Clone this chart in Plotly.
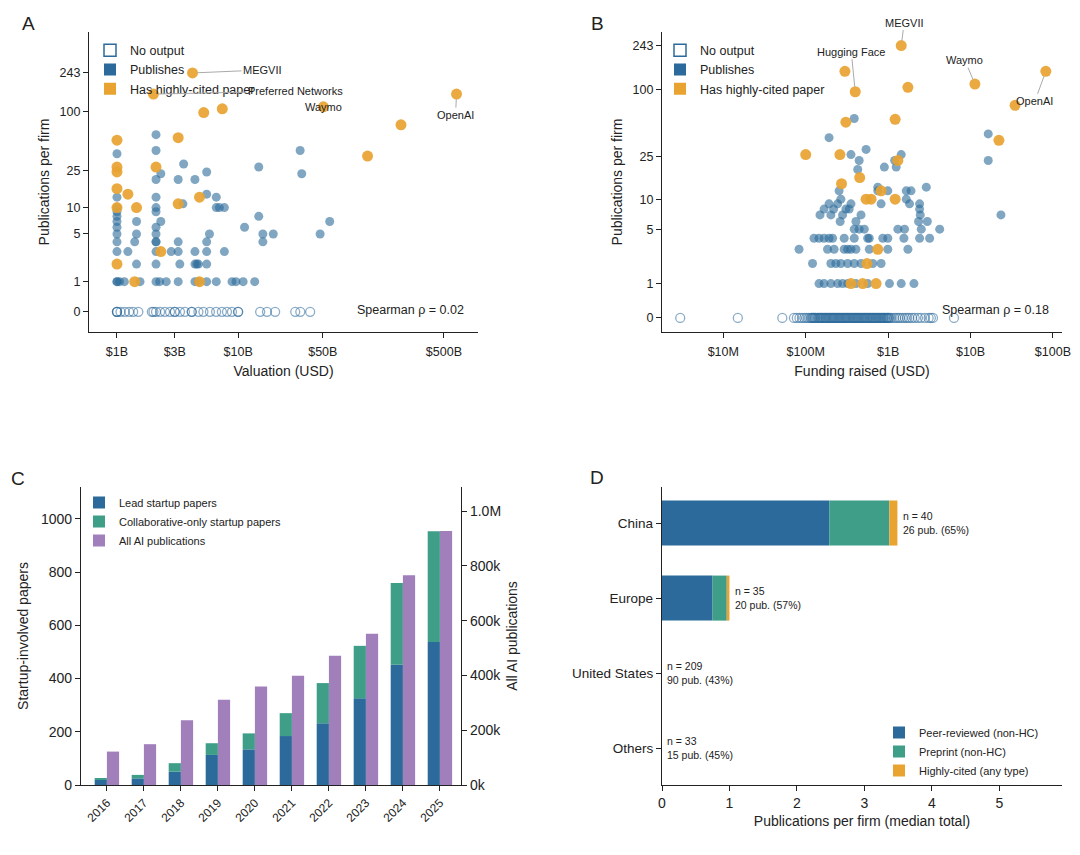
import numpy as np
import plotly.graph_objects as go

# ---------------- DATA ----------------
# Panel A: valuation ($B) vs publications per firm
A_zero_val = [1.0, 1.0, 1.0, 1.07, 1.16, 1.26, 1.36, 1.5, 1.94, 2.0, 2.1, 2.27, 2.49, 2.74, 3.0, 3.0,
              3.31, 3.64, 4.14, 4.14, 4.7, 5.17, 5.85, 6.58, 7.34, 8.09, 8.89, 10.0, 10.0,
              15.2, 17.3, 20.2, 29.6, 32.6, 39.3]
A_pub_val = [1.0, 1.0, 1.05, 1.15, 1.55, 2.1, 2.25, 2.55, 3.2, 4.4, 4.7, 5.5, 6.6, 8.9, 9.6, 11.0, 13.7,
             1.45, 2.1, 3.3, 4.4, 4.55, 4.7, 5.5,
             1.0, 1.23, 2.1, 2.8, 3.2, 4.4, 5.5, 7.7,
             1.0, 1.4, 2.1, 2.1, 3.2, 5.5, 16.0,
             1.0, 1.45, 2.1, 5.8, 16.0, 19.5, 47.5,
             1.0, 2.1, 11.3,
             1.0, 1.45, 2.3, 57.0,
             1.0, 14.8,
             1.0, 2.1,
             1.0, 2.1, 6.6, 7.0, 7.7,
             3.5,
             1.0, 2.1, 6.6,
             5.5,
             2.1, 3.2, 4.4,
             2.3, 33.5, 5.5,
             14.8, 3.55,
             1.0, 2.1, 32.5, 2.1]
A_pub_n = [1] * 17 + [2] * 7 + [3] * 8 + [4] * 7 + [5] * 7 + [6] * 3 + [7] * 4 + [8] * 2 + [9] * 2 + \
          [10] * 5 + [11] + [13] * 3 + [14] + [20] * 3 + [23, 23, 24] + [27, 29] + [37, 40, 40, 58]
A_hc_val = [1.4, 4.8, 1.0, 2.3, 1.0, 1.45, 3.2, 4.8, 1.23, 1.0, 1.0, 1.0, 2.1, 1.0, 3.2,
            2.0, 4.2, 5.2, 7.4, 50.5, 117.0, 221.0, 635.0]
A_hc_n = [1, 1, 2, 3, 10, 10, 11, 13, 14, 16, 24, 27, 27, 51, 54,
          149, 243, 97, 106, 111, 35, 73, 149]

# Panel B: funding raised ($M) vs publications per firm
B_zero_val = [3, 15, 52, 72, 78, 84, 90, 96, 102, 108, 114, 120, 126, 132, 138, 145, 152, 160, 168, 176,
              185, 195, 205, 215, 225, 236, 248, 260, 273, 287, 300, 315, 330, 347, 365, 383, 400, 420,
              440, 462, 485, 510, 535, 560, 590, 620, 650, 680, 715, 750, 790, 830, 870, 910, 960, 1000,
              1050, 1100, 1180, 1250, 1330, 1400, 1500, 1600, 1700, 1800, 1950, 2100, 2300, 2500, 2800,
              3100, 3300, 3500, 6300,
              118, 124, 130, 141, 149, 156, 164, 172, 180, 190, 200, 210, 220, 230, 242, 254, 266, 280,
              294, 308, 322, 338, 355, 374, 392, 410, 430, 450, 473, 497, 522, 548, 575, 605, 635, 665,
              700, 732, 770, 810, 850, 890, 935, 980, 1020]
B_pub_val = [145, 167, 202, 244, 280, 323, 407, 565, 1038, 1442, 2057,
             121, 202, 232, 267, 323, 388, 469, 651, 822,
             83, 184, 221, 293, 323, 354, 407, 591, 991, 1738,
             126, 145, 167, 192, 212, 293, 388, 565, 591, 861, 991, 1554, 2409, 3189,
             388, 445, 514, 1313, 1582, 2525, 4224,
             262, 407, 2342, 2990,
             149, 202, 280, 469, 2456, 23400,
             167, 218, 307, 337, 2409,
             192, 244, 354, 822, 1820, 2409,
             267, 1660,
             254, 749, 991, 1660, 1897,
             749, 2906,
             428, 900, 1253,
             445, 1200, 16400,
             354, 1442, 540, 192, 16400, 388]
B_pub_n = [1] * 11 + [2] * 9 + [3] * 10 + [4] * 14 + [5] * 7 + [6] * 4 + [7] * 6 + [8] * 5 + [9] * 6 + \
          [10] * 2 + [12] * 5 + [13] * 2 + [19, 20, 20] + [23] * 3 + [26, 26, 29, 37, 40, 55]
B_hc_val = [354, 491, 714, 554, 749, 540, 621, 1217, 822, 272, 452, 1313, 100, 260,
            307, 1217, 299, 399, 1442, 1738, 11300, 82000, 34700, 22100]
B_hc_n = [1, 1, 1, 2, 3, 10, 10, 10, 12, 14, 16, 23, 26, 26,
          51, 54, 144, 95, 243, 104, 111, 144, 72, 35]

pub_ticks = [0, 1, 5, 10, 25, 100, 243]

# Panel C
years = [2016, 2017, 2018, 2019, 2020, 2021, 2022, 2023, 2024, 2025]
lead_papers = [19, 25, 50, 113, 134, 184, 232, 326, 452, 537]
collab_papers = [6, 13, 32, 44, 60, 86, 151, 197, 307, 417]
all_ai_pubs = [122000, 149000, 236000, 311000, 360000, 399000, 472000, 552000, 766000, 927000]

# Panel D
regions = ["China", "Europe", "United States", "Others"]
peer_reviewed = [2.48, 0.75, 0.0, 0.0]
preprint = [0.89, 0.21, 0.0, 0.0]
highly_cited = [0.12, 0.04, 0.0, 0.0]
n_firms = [40, 35, 209, 33]
n_pub = [26, 20, 90, 15]
pct_pub = [65, 57, 43, 45]

# ---------------- STYLE ----------------
BLUE = "#2b6a9a"
TEAL = "#3f9e88"
PURPLE = "#a07fba"
ORANGE = "#e8a331"
INK = "#222222"
FONT = "Liberation Sans, Arial, sans-serif"

pub_blue = "rgba(43,106,154,0.6)"
open_line = "rgba(43,106,154,0.55)"
orange_fill = "rgba(232,163,49,0.92)"

W, H, OFF = 1080, 855, 8  # page offset of the plot div


def px(x):
    return (x - OFF) / W


def py(y):
    return 1 - (y - OFF) / H


fig = go.Figure()


def t(n):
    return np.log1p(np.asarray(n, dtype=float))


def scatter_panel(xa, ya, zero_val, pub_val, pub_n, hc_val, hc_n, mult, legend):
    # legend proxies
    fig.add_trace(go.Bar(x=[None], y=[None], name="No output", xaxis=xa, yaxis=ya, legend=legend,
                         marker=dict(color="white", line=dict(color=BLUE, width=1.5))))
    fig.add_trace(go.Bar(x=[None], y=[None], name="Publishes", xaxis=xa, yaxis=ya, legend=legend,
                         marker=dict(color=BLUE, line=dict(width=0))))
    fig.add_trace(go.Bar(x=[None], y=[None], name="Has highly-cited paper", xaxis=xa, yaxis=ya,
                         legend=legend, marker=dict(color=ORANGE, line=dict(width=0))))
    fig.add_trace(go.Scatter(x=np.array(zero_val) * mult, y=t([0] * len(zero_val)), mode="markers",
                             xaxis=xa, yaxis=ya, showlegend=False, hoverinfo="skip",
                             marker=dict(size=9, color="rgba(255,255,255,0)",
                                         line=dict(color=open_line, width=1.3))))
    fig.add_trace(go.Scatter(x=np.array(pub_val) * mult, y=t(pub_n), mode="markers",
                             xaxis=xa, yaxis=ya, showlegend=False,
                             marker=dict(size=9, color=pub_blue, line=dict(width=0))))
    fig.add_trace(go.Scatter(x=np.array(hc_val) * mult, y=t(hc_n), mode="markers",
                             xaxis=xa, yaxis=ya, showlegend=False,
                             marker=dict(size=11, color=orange_fill, line=dict(width=0))))


scatter_panel("x", "y", A_zero_val, A_pub_val, A_pub_n, A_hc_val, A_hc_n, 1e9, "legend")
scatter_panel("x2", "y2", B_zero_val, B_pub_val, B_pub_n, B_hc_val, B_hc_n, 1e6, "legend2")

# Panel C bars
fig.add_trace(go.Bar(x=years, y=lead_papers, name="Lead startup papers", xaxis="x3", yaxis="y3",
                     width=0.33, offset=-0.33, marker=dict(color=BLUE, line=dict(width=0)),
                     legend="legend3"))
fig.add_trace(go.Bar(x=years, y=collab_papers, base=lead_papers, name="Collaborative-only startup papers",
                     xaxis="x3", yaxis="y3", width=0.33, offset=-0.33,
                     marker=dict(color=TEAL, line=dict(width=0)), legend="legend3"))
fig.add_trace(go.Bar(x=years, y=all_ai_pubs, name="All AI publications", xaxis="x3", yaxis="y4",
                     width=0.33, offset=0.0, marker=dict(color=PURPLE, line=dict(width=0)),
                     legend="legend3"))

# Panel D bars
base2 = [a + b for a, b in zip(peer_reviewed, preprint)]
fig.add_trace(go.Bar(y=regions, x=peer_reviewed, orientation="h", name="Peer-reviewed (non-HC)",
                     xaxis="x5", yaxis="y5", width=0.6, marker=dict(color=BLUE, line=dict(width=0)),
                     legend="legend4"))
fig.add_trace(go.Bar(y=regions, x=preprint, base=peer_reviewed, orientation="h", name="Preprint (non-HC)",
                     xaxis="x5", yaxis="y5", width=0.6, marker=dict(color=TEAL, line=dict(width=0)),
                     legend="legend4"))
fig.add_trace(go.Bar(y=regions, x=highly_cited, base=base2, orientation="h",
                     name="Highly-cited (any type)", xaxis="x5", yaxis="y5", width=0.6,
                     marker=dict(color=ORANGE, line=dict(width=0)), legend="legend4"))

axis_common = dict(showline=True, linecolor=INK, linewidth=1.3, ticks="outside", ticklen=5,
                   tickwidth=1.2, tickcolor=INK, showgrid=False, zeroline=False, automargin=False,
                   tickfont=dict(size=12.5, color=INK), title_font=dict(size=14, color=INK))

ytick_common = dict(tickmode="array", tickvals=list(t(pub_ticks)), ticktext=[str(v) for v in pub_ticks])

top_dom = [py(332), py(32)]
bot_dom = [py(785), py(487)]

fig.update_layout(
    width=W, height=H, margin=dict(l=0, r=0, t=0, b=0, autoexpand=False),
    paper_bgcolor="white", plot_bgcolor="white", barmode="overlay",
    font=dict(family=FONT, color=INK),
    xaxis=dict(domain=[px(89), px(478)], anchor="y", type="log", range=[8.769, 11.98],
               tickvals=[1e9, 3e9, 1e10, 5e10, 5e11], ticktext=["$1B", "$3B", "$10B", "$50B", "$500B"],
               ticklabelstandoff=3, title=dict(text="Valuation (USD)", standoff=8), **axis_common),
    yaxis=dict(domain=top_dom, anchor="x", range=[-0.465, 6.44],
               title=dict(text="Publications per firm", standoff=6), **ytick_common, **axis_common),
    xaxis2=dict(domain=[px(662), px(1062)], anchor="y2", type="log", range=[6.256, 11.11],
                tickvals=[1e7, 1e8, 1e9, 1e10, 1e11], ticktext=["$10M", "$100M", "$1B", "$10B", "$100B"],
                ticklabelstandoff=3, title=dict(text="Funding raised (USD)", standoff=8), **axis_common),
    yaxis2=dict(domain=top_dom, anchor="x2", range=[-0.283, 5.77],
                title=dict(text="Publications per firm", standoff=6), **ytick_common, **axis_common),
    xaxis3=dict(domain=[px(81), px(461)], anchor="y3", range=[2015.3, 2025.57], tickmode="array",
                tickvals=years, ticktext=[str(y) for y in years], tickangle=-45,
                **{**axis_common, "tickfont": dict(size=12, color=INK)}),
    yaxis3=dict(domain=bot_dom, anchor="x3", range=[0, 1120], tickvals=[0, 200, 400, 600, 800, 1000],
                title=dict(text="Startup-involved papers", standoff=8),
                **{**axis_common, "tickfont": dict(size=14, color=INK)}),
    yaxis4=dict(overlaying="y3", side="right", anchor="x3", range=[0, 1.088e6],
                tickvals=[0, 2e5, 4e5, 6e5, 8e5, 1e6], ticktext=["0k", "200k", "400k", "600k", "800k", "1.0M"],
                title=dict(text="All AI publications", standoff=6),
                **{**axis_common, "tickfont": dict(size=14, color=INK)}),
    xaxis5=dict(domain=[px(662), px(1062)], anchor="y5", range=[0, 5.93], tickvals=[0, 1, 2, 3, 4, 5],
                title=dict(text="Publications per firm (median total)", standoff=6),
                **{**axis_common, "tickfont": dict(size=14, color=INK)}),
    yaxis5=dict(domain=bot_dom, anchor="x5", type="category", categoryorder="array",
                categoryarray=regions, range=[3.49, -0.48],
                **{**axis_common, "tickfont": dict(size=13.5, color=INK)}),
    legend=dict(x=px(90), y=py(35.5), xanchor="left", yanchor="top", bgcolor="rgba(0,0,0,0)",
                font=dict(size=12.5, color=INK), tracegroupgap=0, itemwidth=30),
    legend2=dict(x=px(660), y=py(35.5), xanchor="left", yanchor="top", bgcolor="rgba(0,0,0,0)",
                 font=dict(size=12.5, color=INK), tracegroupgap=0, itemwidth=30),
    legend3=dict(x=px(79), y=py(488), xanchor="left", yanchor="top", bgcolor="rgba(0,0,0,0)",
                 font=dict(size=11, color=INK), tracegroupgap=0, itemwidth=30),
    legend4=dict(x=px(879), y=py(718), xanchor="left", yanchor="top", bgcolor="rgba(0,0,0,0)",
                 font=dict(size=11, color=INK), tracegroupgap=0, itemwidth=30),
)

ann = []
# Panel letters
for letter, x, y in [("A", 28, 23), ("B", 597, 23), ("C", 18, 478), ("D", 597, 477)]:
    ann.append(dict(text=letter, x=px(x), y=py(y), xref="paper", yref="paper", showarrow=False,
                    font=dict(size=19, color=INK), xanchor="center", yanchor="middle"))

# Spearman texts
ann.append(dict(text="Spearman ρ = 0.02", xref="x domain", yref="y domain", x=0.968, y=0.075,
                xanchor="right", yanchor="middle", showarrow=False, font=dict(size=12.5, color=INK)))
ann.append(dict(text="Spearman ρ = 0.18", xref="x2 domain", yref="y2 domain", x=0.972, y=0.075,
                xanchor="right", yanchor="middle", showarrow=False, font=dict(size=12.5, color=INK)))

# Firm labels (point index in hc arrays, pixel offsets)
labelsA = [("MEGVII", 16, 70, -3), ("Preferred Networks", 15, 142, -3), ("Waymo", 19, -4, -1),
           ("OpenAI", 22, -1, 21)]
for name, i, ax, ay in labelsA:
    ann.append(dict(text=name, x=np.log10(A_hc_val[i] * 1e9), y=float(t(A_hc_n[i])), xref="x", yref="y",
                    ax=ax, ay=ay, showarrow=name != "Waymo", arrowhead=0, arrowwidth=1, arrowcolor="#aaaaaa",
                    standoff=5, font=dict(size=11, color=INK)))
labelsB = [("MEGVII", 18, 3, -23), ("Hugging Face", 17, -4, -40), ("Waymo", 20, -10, -24),
           ("OpenAI", 21, -11, 30)]
for name, i, ax, ay in labelsB:
    ann.append(dict(text=name, x=np.log10(B_hc_val[i] * 1e6), y=float(t(B_hc_n[i])), xref="x2", yref="y2",
                    ax=ax, ay=ay, showarrow=True, arrowhead=0, arrowwidth=1, arrowcolor="#aaaaaa",
                    standoff=5, font=dict(size=11, color=INK)))

# Panel D annotations
for r, p, q, h, nf, npub, pc in zip(regions, peer_reviewed, preprint, highly_cited, n_firms, n_pub, pct_pub):
    ann.append(dict(text=f"n = {nf}<br>{npub} pub. ({pc}%)", x=p + q + h + 0.05, y=r, xref="x5", yref="y5",
                    xanchor="left", yanchor="middle", align="left", showarrow=False,
                    font=dict(size=10.5, color=INK)))

fig.update_layout(annotations=ann)
fig.write_html("out.html")
